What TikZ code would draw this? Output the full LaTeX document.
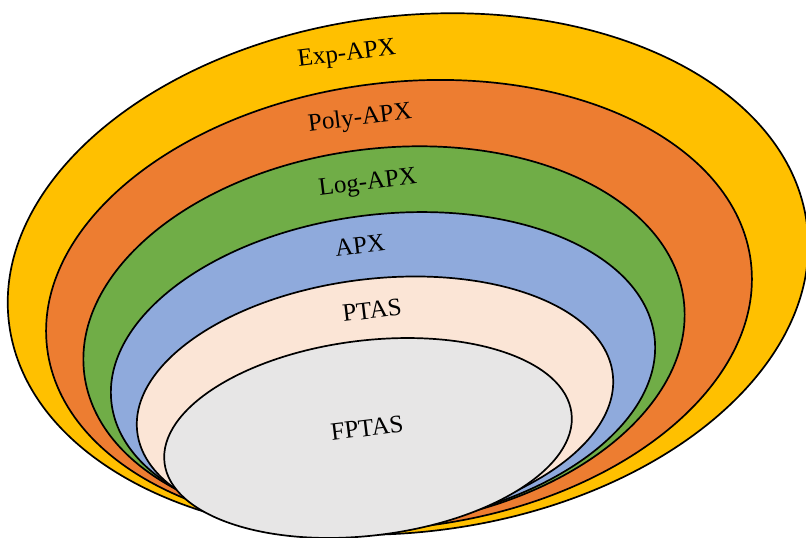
\documentclass[tikz,border=0pt]{standalone}
\usepackage{fontspec}
\setmainfont{Liberation Serif}
\usetikzlibrary{shapes.geometric}

\definecolor{expcol}{HTML}{FFC000}
\definecolor{polycol}{HTML}{ED7D31}
\definecolor{logcol}{HTML}{70AD47}
\definecolor{apxcol}{HTML}{8FAADC}
\definecolor{ptascol}{HTML}{FBE5D6}
\definecolor{fptascol}{HTML}{E7E6E6}

\begin{document}
\begin{tikzpicture}[x=1pt, y=-1pt,
    classbox/.style = {ellipse, draw, line width=1.7pt, inner sep=0pt, rotate=7},
    classname/.style = {rotate=7, font=\fontsize{25}{30}\selectfont}]
    \useasboundingbox (0, 0) rectangle (806, 538);

    \node[classbox, fill=expcol, minimum width=804pt, minimum height=516pt] (exp) at (408, 274) {};
    \node[classbox, fill=polycol, minimum width=709pt, minimum height=445pt] (poly) at (399, 305) {};
    \node[classbox, fill=logcol, minimum width=604pt, minimum height=377pt] (log) at (384, 337) {};
    \node[classbox, fill=apxcol, minimum width=547pt, minimum height=311pt] (apx) at (383, 370) {};
    \node[classbox, fill=ptascol, minimum width=479pt, minimum height=248pt] (ptas) at (375, 403) {};
    \node[classbox, fill=fptascol, minimum width=410pt, minimum height=195pt] (fptas) at (368, 438) {};

    \node[classname] (explabel) at (347, 55) {Exp-APX};
    \node[classname] (polylabel) at (360, 119) {Poly-APX};
    \node[classname] (loglabel) at (368, 184) {Log-APX};
    \node[classname] (apxlabel) at (360, 245) {APX};
    \node[classname] (ptaslabel) at (372, 310) {PTAS};
    \node[classname] (fptaslabel) at (367, 428) {FPTAS};
  \end{tikzpicture}
\end{document}
